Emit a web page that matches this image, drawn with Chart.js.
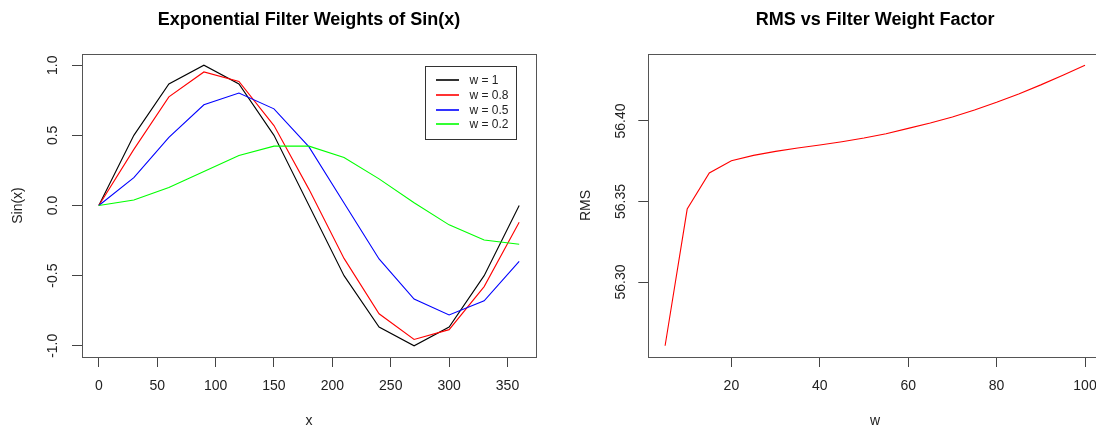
<!DOCTYPE html>
<html>
<head>
<meta charset="utf-8">
<script src="https://cdn.jsdelivr.net/npm/chart.js@4.4.1/dist/chart.umd.min.js"></script>
<style>
  html, body { margin: 0; padding: 0; background: #fff; overflow: hidden; }
  #wrap { position: relative; width: 1096px; height: 430px; overflow: hidden; }
  #sinChart { position: absolute; left: 0; top: 0; }
  #rmsChart { position: absolute; left: 548px; top: 0; }
</style>
</head>
<body>
<div id="wrap">
  <canvas id="sinChart" width="548" height="430"></canvas>
  <canvas id="rmsChart" width="566" height="430"></canvas>
</div>
<script>
// Left panel: sin(x) run through the exponential filter at four weights
const xDegrees = [0, 30, 60, 90, 120, 150, 180, 210, 240, 270, 300, 330, 360];
const sinW1  = [0, 0.5, 0.866, 1, 0.866, 0.5, 0, -0.5, -0.866, -1, -0.866, -0.5, 0];
const sinW08 = [0, 0.4, 0.774, 0.952, 0.884, 0.570, 0.115, -0.377, -0.772, -0.955, -0.885, -0.578, -0.12];
const sinW05 = [0, 0.198, 0.485, 0.718, 0.802, 0.689, 0.418, 0.018, -0.381, -0.667, -0.780, -0.679, -0.399];
const sinW02 = [0, 0.039, 0.129, 0.243, 0.357, 0.423, 0.423, 0.342, 0.190, 0.020, -0.138, -0.246, -0.276];
const sinLabels = ['w = 1', 'w = 0.8', 'w = 0.5', 'w = 0.2'];
const sinColors = ['#000000', '#ff0000', '#0000ff', '#00ff00'];
const xTicks = [0, 50, 100, 150, 200, 250, 300, 350];
const sinTicks = [-1, -0.5, 0, 0.5, 1];

// Right panel: RMS for each filter weight factor
const weights = [5, 10, 15, 20, 25, 30, 35, 40, 45, 50, 55, 60, 65, 70, 75, 80, 85, 90, 95, 100];
const rmsValues = [56.2604, 56.3453, 56.3677, 56.3753, 56.3786, 56.3811, 56.3832, 56.3851, 56.3871, 56.3894,
                   56.3921, 56.3954, 56.3987, 56.4025, 56.4068, 56.4116, 56.4168, 56.4224, 56.4284, 56.4346];
const wTicks = [20, 40, 60, 80, 100];
const rmsTicks = [56.30, 56.35, 56.40];

const FONT = '"Liberation Sans", Arial, Helvetica, sans-serif';
const tickFont = { family: FONT, size: 14, lineHeight: 1.2 };
const axisFont = { family: FONT, size: 14, lineHeight: 1.2 };

// R pads each axis range by 4% on both sides
function rRange(vals) {
  const lo = Math.min(...vals), hi = Math.max(...vals);
  const d = (hi - lo) * 0.04;
  return [lo - d, hi + d];
}

function xScale(range, ticks, title) {
  return {
    type: 'linear',
    min: range[0],
    max: range[1],
    afterBuildTicks: s => { s.ticks = ticks.map(v => ({ value: v })); },
    afterFit: s => { s.height = 73; },
    grid: { drawOnChartArea: false, drawTicks: true, tickLength: 10, color: '#444' },
    border: { display: false },
    ticks: { font: tickFont, color: '#222', padding: 11, maxRotation: 0, autoSkip: false,
             callback: v => String(v) },
    title: { display: true, text: title, font: axisFont, color: '#222', padding: { top: 0, bottom: 0 } }
  };
}

function yScale(range, ticks, title, width, digits, labelPad, titlePad) {
  return {
    type: 'linear',
    min: range[0],
    max: range[1],
    afterBuildTicks: s => { s.ticks = ticks.map(v => ({ value: v })); },
    afterFit: s => { s.width = width; },
    grid: { drawOnChartArea: false, drawTicks: true, tickLength: 10, color: '#444' },
    border: { display: false },
    ticks: { font: tickFont, color: '#222', padding: labelPad, minRotation: 90, maxRotation: 90,
             crossAlign: 'center', autoSkip: false, callback: v => v.toFixed(digits) },
    title: { display: true, text: title, font: axisFont, color: '#222', padding: { top: titlePad, bottom: 0 } }
  };
}

function titleOpts(text) {
  return {
    display: true,
    text: text,
    fullSize: false,
    color: '#000',
    font: { family: FONT, size: 18, weight: 'bold', lineHeight: 1.2 },
    padding: { top: 9, bottom: 23.4 }
  };
}

// plot frame around the chart area, like R's box()
const boxPlugin = {
  id: 'box',
  afterDraw(chart) {
    const a = chart.chartArea, ctx = chart.ctx;
    ctx.save();
    ctx.strokeStyle = '#555';
    ctx.lineWidth = 1;
    ctx.strokeRect(Math.round(a.left) + 0.5, Math.round(a.top) + 0.5,
                   Math.round(a.right - a.left), Math.round(a.bottom - a.top));
    ctx.restore();
  }
};

// legend box in the top right corner of the left panel
const insetLegend = {
  id: 'insetLegend',
  afterDraw(chart) {
    const a = chart.chartArea, ctx = chart.ctx;
    const bx = a.right - 111.5, by = a.top + 12, bw = 90.5, bh = 73;
    ctx.save();
    ctx.strokeStyle = '#333';
    ctx.lineWidth = 1;
    ctx.strokeRect(Math.round(bx) + 0.5, Math.round(by) + 0.5, Math.round(bw), Math.round(bh));
    ctx.font = '12px ' + FONT;
    ctx.textBaseline = 'middle';
    ctx.textAlign = 'left';
    chart.data.datasets.forEach((ds, i) => {
      const y = Math.round(by + 14 + i * 14.8);
      ctx.strokeStyle = ds.borderColor;
      ctx.lineWidth = 1.6;
      ctx.beginPath();
      ctx.moveTo(bx + 11.5, y);
      ctx.lineTo(bx + 34.5, y);
      ctx.stroke();
      ctx.fillStyle = '#222';
      ctx.fillText(ds.label, bx + 45, y + 1);
    });
    ctx.restore();
  }
};

const sinSeries = [sinW1, sinW08, sinW05, sinW02];

new Chart(document.getElementById('sinChart'), {
  type: 'line',
  data: {
    datasets: sinSeries.map((vals, i) => ({
      label: sinLabels[i],
      data: xDegrees.map((x, j) => ({ x: x, y: vals[j] })),
      borderColor: sinColors[i],
      borderWidth: 1.1,
      pointRadius: 0,
      tension: 0,
      fill: false,
      order: sinSeries.length - i
    }))
  },
  options: {
    responsive: false,
    animation: false,
    layout: { padding: { left: 0, right: 12, top: 0, bottom: 0 } },
    plugins: {
      legend: { display: false },
      tooltip: { enabled: false },
      title: titleOpts('Exponential Filter Weights of Sin(x)')
    },
    scales: {
      x: xScale(rRange(xDegrees), xTicks, 'x'),
      y: yScale(rRange([-1, 1]), sinTicks, 'Sin(x)', 82, 1, 7, 9.6)
    }
  },
  plugins: [boxPlugin, insetLegend]
});

new Chart(document.getElementById('rmsChart'), {
  type: 'line',
  data: {
    datasets: [{
      label: 'RMS',
      data: weights.map((w, j) => ({ x: w, y: rmsValues[j] })),
      borderColor: '#ff0000',
      borderWidth: 1.1,
      pointRadius: 0,
      tension: 0,
      fill: false
    }]
  },
  options: {
    responsive: false,
    animation: false,
    layout: { padding: { left: 0, right: 12.2, top: 0, bottom: 0 } },
    plugins: {
      legend: { display: false },
      tooltip: { enabled: false },
      title: titleOpts('RMS vs Filter Weight Factor')
    },
    scales: {
      x: xScale(rRange(weights), wTicks, 'w'),
      y: yScale(rRange(rmsValues), rmsTicks, 'RMS', 100.3, 2, 0, 29.5)
    }
  },
  plugins: [boxPlugin]
});
</script>
</body>
</html>
